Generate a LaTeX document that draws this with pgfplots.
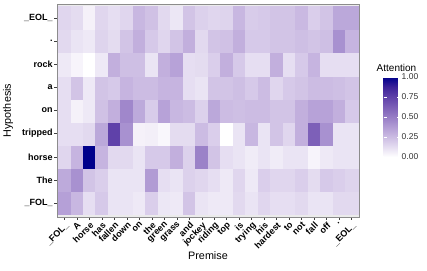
\documentclass[border=0pt]{standalone}
\usepackage{fontspec}
\setmainfont{Liberation Sans}
\usepackage{pgfplots}
\pgfplotsset{compat=1.18}
\pgfplotsset{colormap={attn}{rgb255=(255,255,255) rgb255=(229,221,241) rgb255=(204,188,227) rgb255=(178,156,213) rgb255=(151,125,198) rgb255=(124,95,183) rgb255=(95,65,169) rgb255=(61,35,154) rgb255=(0,0,139)}}
\begin{document}
\begin{tikzpicture}
\path[use as bounding box] (-57pt,-53pt) rectangle (370pt,217pt);
\begin{axis}[
  at={(0,0)}, anchor=south west,
  width=302pt, height=213pt, scale only axis,
  xmin=-0.6, xmax=23.6, ymin=-0.6, ymax=8.6,
  enlargelimits=false,
  colormap name=attn,
  point meta min=0, point meta max=1,
  xtick={0,...,23}, ytick={0,...,8},
  xticklabels={\_FOL\_,A,horse,has,fallen,down,on,the,green,grass,and,jockey,riding,top,is,trying,his,hardest,to,not,fall,off,.,\_EOL\_},
  yticklabels={\_FOL\_,The,horse,tripped,on,a,rock,.,\_EOL\_},
  xticklabel style={rotate=45, anchor=north east, font=\fontsize{9}{9}\selectfont\bfseries, inner sep=1pt},
  yticklabel style={anchor=east, font=\fontsize{9}{9}\selectfont\bfseries, inner sep=1.5pt},
  tick align=outside, major tick length=2.75pt,
  tick style={black!75, line width=0.5pt},
  tick pos=left,
  axis line style={black!45, line width=0.4pt},
  axis background/.style={fill=black!8},
  xlabel=Premise, ylabel=Hypothesis,
  xlabel style={at={(axis description cs:0.5,-0.183)}, anchor=center, font=\fontsize{10.8}{12}\selectfont},
  ylabel style={at={(axis description cs:-0.162,0.5)}, anchor=center, font=\fontsize{10.8}{12}\selectfont},
  colorbar right,
  colorbar style={
    at={(parent axis.south east)}, anchor=south west,
    xshift=16pt, yshift=60pt,
    width=17pt, height=80pt, scale only axis,
    ytick={0,0.25,0.5,0.75,1},
    yticklabels={0.00,0.25,0.50,0.75,1.00},
    yticklabel style={font=\fontsize{8.5}{9}\selectfont, color=black!80, inner sep=1pt},
    ytick style={draw=white, line width=0.5pt},
    major tick length=3.4pt, tick align=inside,
    ytick pos=both, yticklabel pos=right,
    axis line style={draw=none},
    title=Attention,
    title style={at={(rel axis cs:0,1)}, anchor=south west, inner sep=0pt, xshift=-7pt, yshift=-0.5pt, font=\fontsize{10}{11}\selectfont},
  },
]
\addplot[matrix plot*, mesh/cols=24, point meta=explicit] table[row sep=\\, meta=c]{
x y c\\
0 0 0.36\\ 1 0 0.27\\ 2 0 0.12\\ 3 0 0.20\\ 4 0 0.10\\ 5 0 0.10\\ 6 0 0.08\\ 7 0 0.18\\ 8 0 0.09\\ 9 0 0.08\\ 10 0 0.22\\ 11 0 0.10\\ 12 0 0.08\\ 13 0 0.08\\ 14 0 0.14\\ 15 0 0.10\\ 16 0 0.15\\ 17 0 0.12\\ 18 0 0.12\\ 19 0 0.14\\ 20 0 0.10\\ 21 0 0.10\\ 22 0 0.14\\ 23 0 0.14\\
0 1 0.32\\ 1 1 0.42\\ 2 1 0.22\\ 3 1 0.18\\ 4 1 0.10\\ 5 1 0.10\\ 6 1 0.10\\ 7 1 0.38\\ 8 1 0.12\\ 9 1 0.10\\ 10 1 0.17\\ 11 1 0.15\\ 12 1 0.12\\ 13 1 0.08\\ 14 1 0.15\\ 15 1 0.08\\ 16 1 0.18\\ 17 1 0.15\\ 18 1 0.15\\ 19 1 0.18\\ 20 1 0.13\\ 21 1 0.20\\ 22 1 0.18\\ 23 1 0.16\\
0 2 0.15\\ 1 2 0.28\\ 2 2 1.00\\ 3 2 0.28\\ 4 2 0.14\\ 5 2 0.14\\ 6 2 0.10\\ 7 2 0.20\\ 8 2 0.20\\ 9 2 0.30\\ 10 2 0.17\\ 11 2 0.48\\ 12 2 0.22\\ 13 2 0.12\\ 14 2 0.10\\ 15 2 0.07\\ 16 2 0.10\\ 17 2 0.07\\ 18 2 0.10\\ 19 2 0.10\\ 20 2 0.04\\ 21 2 0.08\\ 22 2 0.10\\ 23 2 0.10\\
0 3 0.12\\ 1 3 0.12\\ 2 3 0.14\\ 3 3 0.33\\ 4 3 0.75\\ 5 3 0.42\\ 6 3 0.05\\ 7 3 0.06\\ 8 3 0.03\\ 9 3 0.13\\ 10 3 0.13\\ 11 3 0.25\\ 12 3 0.18\\ 13 3 0.00\\ 14 3 0.10\\ 15 3 0.27\\ 16 3 0.10\\ 17 3 0.22\\ 18 3 0.15\\ 19 3 0.30\\ 20 3 0.62\\ 21 3 0.42\\ 22 3 0.10\\ 23 3 0.10\\
0 4 0.12\\ 1 4 0.05\\ 2 4 0.08\\ 3 4 0.23\\ 4 4 0.30\\ 5 4 0.46\\ 6 4 0.32\\ 7 4 0.19\\ 8 4 0.35\\ 9 4 0.27\\ 10 4 0.25\\ 11 4 0.17\\ 12 4 0.33\\ 13 4 0.25\\ 14 4 0.24\\ 15 4 0.25\\ 16 4 0.25\\ 17 4 0.22\\ 18 4 0.22\\ 19 4 0.30\\ 20 4 0.35\\ 21 4 0.35\\ 22 4 0.30\\ 23 4 0.20\\
0 5 0.12\\ 1 5 0.22\\ 2 5 0.08\\ 3 5 0.22\\ 4 5 0.20\\ 5 5 0.28\\ 6 5 0.25\\ 7 5 0.25\\ 8 5 0.28\\ 9 5 0.28\\ 10 5 0.12\\ 11 5 0.10\\ 12 5 0.22\\ 13 5 0.22\\ 14 5 0.24\\ 15 5 0.20\\ 16 5 0.25\\ 17 5 0.15\\ 18 5 0.20\\ 19 5 0.22\\ 20 5 0.25\\ 21 5 0.25\\ 22 5 0.24\\ 23 5 0.22\\
0 6 0.08\\ 1 6 0.04\\ 2 6 0.00\\ 3 6 0.08\\ 4 6 0.30\\ 5 6 0.24\\ 6 6 0.24\\ 7 6 0.10\\ 8 6 0.30\\ 9 6 0.35\\ 10 6 0.12\\ 11 6 0.13\\ 12 6 0.18\\ 13 6 0.30\\ 14 6 0.20\\ 15 6 0.12\\ 16 6 0.12\\ 17 6 0.30\\ 18 6 0.12\\ 19 6 0.20\\ 20 6 0.28\\ 21 6 0.12\\ 22 6 0.12\\ 23 6 0.12\\
0 7 0.14\\ 1 7 0.10\\ 2 7 0.08\\ 3 7 0.16\\ 4 7 0.13\\ 5 7 0.22\\ 6 7 0.30\\ 7 7 0.20\\ 8 7 0.15\\ 9 7 0.22\\ 10 7 0.30\\ 11 7 0.14\\ 12 7 0.22\\ 13 7 0.23\\ 14 7 0.30\\ 15 7 0.20\\ 16 7 0.20\\ 17 7 0.22\\ 18 7 0.22\\ 19 7 0.24\\ 20 7 0.22\\ 21 7 0.24\\ 22 7 0.42\\ 23 7 0.28\\
0 8 0.15\\ 1 8 0.13\\ 2 8 0.05\\ 3 8 0.15\\ 4 8 0.12\\ 5 8 0.15\\ 6 8 0.27\\ 7 8 0.23\\ 8 8 0.14\\ 9 8 0.09\\ 10 8 0.22\\ 11 8 0.17\\ 12 8 0.15\\ 13 8 0.16\\ 14 8 0.27\\ 15 8 0.19\\ 16 8 0.20\\ 17 8 0.22\\ 18 8 0.22\\ 19 8 0.26\\ 20 8 0.18\\ 21 8 0.22\\ 22 8 0.33\\ 23 8 0.33\\
};
\end{axis}
\end{tikzpicture}
\end{document}
